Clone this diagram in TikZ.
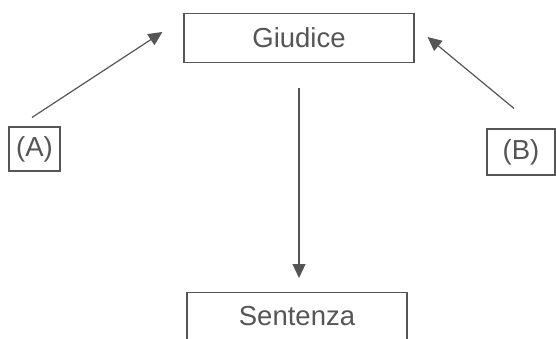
\documentclass[tikz,border=0pt]{standalone}
\usepackage{fontspec}
\setmainfont{Liberation Sans}
\usetikzlibrary{arrows.meta}
\definecolor{grigio}{HTML}{555555}
\newcommand{\casella}[5]{%
	\node[casella, minimum width=#3pt, minimum height=#4pt] (#1) at (#2) {#5};
}

\begin{document}
\begin{tikzpicture}[x=1pt, y=1pt,
	casella/.style={draw=grigio, line width=1.1pt, text=grigio, inner sep=0pt, font=\fontsize{27.5}{32}\selectfont},
	freccia/.style={draw=grigio, line width=1.2pt, -{Triangle[length=14pt,width=13pt]}}]
	\useasboundingbox (0,0) rectangle (556,338);
	\clip (0,0) rectangle (556,338);
	\casella{giudice}{299,300}{230}{49}{Giudice}
	\casella{parteA}{34.5,189}{51}{44}{(A)}
	\casella{parteB}{521,186}{68}{46}{(B)}
	% la sentenza esce dal foglio in basso
	\node[casella, anchor=north, minimum width=220pt, inner ysep=13pt, text height=20pt, text depth=30pt] (sentenza) at (297,46) {Sentenza};
	% le parti si rivolgono al giudice
	\draw[freccia] ([xshift=-2.5pt,yshift=9pt]parteA.north) -- ([xshift=-21pt,yshift=6pt]giudice.west);
	\draw[freccia] ([xshift=-7pt,yshift=20pt]parteB.north) -- ([xshift=13pt,yshift=1pt]giudice.east);
	\draw[freccia, shorten <=25pt, shorten >=14pt] (giudice.south) -- (sentenza.north -| giudice.south);
\end{tikzpicture}
\end{document}
